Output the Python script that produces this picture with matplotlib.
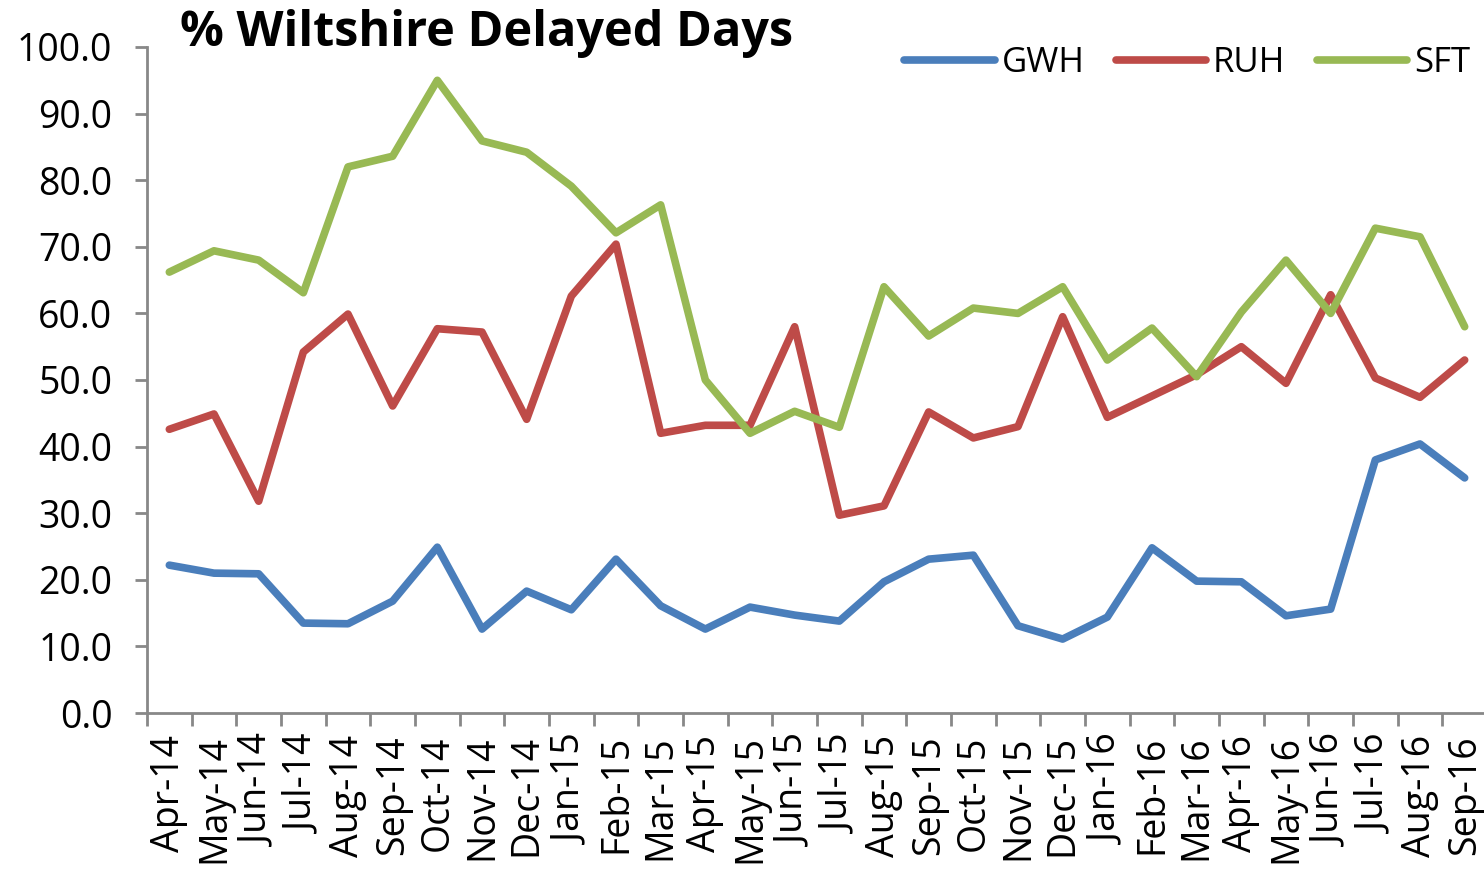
import numpy as np
import matplotlib
matplotlib.use("Agg")
import matplotlib.pyplot as plt
from matplotlib.ticker import FixedLocator, FormatStrFormatter

months = ["Apr-14", "May-14", "Jun-14", "Jul-14", "Aug-14", "Sep-14", "Oct-14", "Nov-14",
          "Dec-14", "Jan-15", "Feb-15", "Mar-15", "Apr-15", "May-15", "Jun-15", "Jul-15",
          "Aug-15", "Sep-15", "Oct-15", "Nov-15", "Dec-15", "Jan-16", "Feb-16", "Mar-16",
          "Apr-16", "May-16", "Jun-16", "Jul-16", "Aug-16", "Sep-16"]

gwh = [22.2, 21.0, 20.9, 13.5, 13.4, 16.8, 24.9, 12.6, 18.3, 15.5, 23.1, 16.1, 12.6, 15.9, 14.7,
       13.8, 19.7, 23.1, 23.7, 13.1, 11.1, 14.4, 24.8, 19.8, 19.7, 14.6, 15.6, 38.0, 40.4, 35.3]
ruh = [42.6, 44.9, 31.8, 54.2, 59.9, 46.1, 57.7, 57.2, 44.1, 62.6, 70.4, 42.0, 43.2, 43.2, 58.0,
       29.7, 31.1, 45.2, 41.3, 43.0, 59.5, 44.4, 47.6, 50.8, 55.0, 49.5, 62.8, 50.3, 47.4, 53.0]
sft = [66.2, 69.4, 68.0, 63.1, 82.0, 83.6, 95.0, 85.9, 84.2, 79.1, 72.1, 76.3, 50.0, 42.0, 45.3,
       42.9, 64.0, 56.6, 60.8, 60.0, 64.0, 53.0, 57.8, 50.5, 60.2, 68.0, 60.0, 72.8, 71.5, 58.0]

plt.rcParams['font.family'] = ['Open Sans', 'DejaVu Sans']

fig = plt.figure(figsize=(14.84, 8.72), dpi=100)
ax = fig.add_axes([147 / 1484, (872 - 713) / 872, 1340 / 1484, 666 / 872])

x = np.arange(len(months))
ax.plot(x, gwh, color="#4A7EBB", lw=5.5, label="GWH", solid_capstyle="round", solid_joinstyle="round")
ax.plot(x, ruh, color="#BE4B48", lw=5.5, label="RUH", solid_capstyle="round", solid_joinstyle="round")
ax.plot(x, sft, color="#98B954", lw=5.5, label="SFT", solid_capstyle="round", solid_joinstyle="round")

ax.set_xlim(-0.5, len(months) - 0.5)
ax.set_ylim(0, 100)
ax.set_yticks(np.arange(0, 101, 10))
ax.yaxis.set_major_formatter(FormatStrFormatter("%.1f"))
ax.set_xticks(x)
ax.set_xticklabels(months, rotation=90, fontsize=27)
ax.xaxis.set_minor_locator(FixedLocator(np.arange(-0.5, len(months), 1)))
ax.tick_params(axis="x", which="major", length=0, pad=16)
ax.tick_params(axis="x", which="minor", length=9, width=2, color="#888888")
ax.tick_params(axis="y", labelsize=27, length=9, width=2, color="#888888", pad=16)

for s in ["top", "right"]:
    ax.spines[s].set_visible(False)
for s in ["left", "bottom"]:
    ax.spines[s].set_color("#888888")
    ax.spines[s].set_linewidth(2)

fig.text(180 / 1484, 1 - 33 / 872, "% Wiltshire Delayed Days", fontsize=35, fontweight="bold",
         va="center", ha="left")

fig.legend(*ax.get_legend_handles_labels(), loc="center right",
           bbox_to_anchor=(1470 / 1484, 1 - 63 / 872), ncol=3, frameon=False, fontsize=25,
           handlelength=2.6, handletextpad=0.2, columnspacing=0.9, borderpad=0, borderaxespad=0)

fig.savefig("out.png", dpi=100)
